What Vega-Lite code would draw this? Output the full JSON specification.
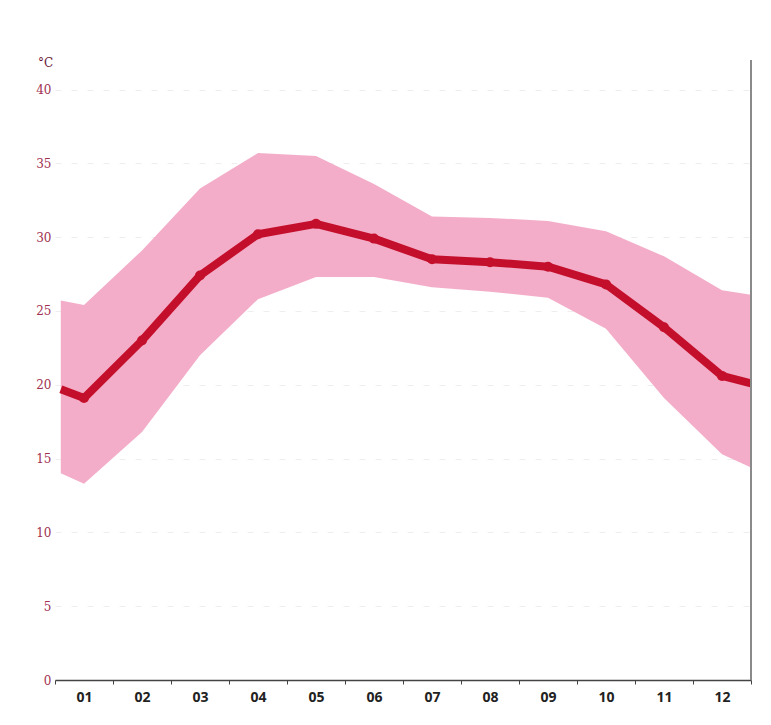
{
  "$schema": "https://vega.github.io/schema/vega-lite/v6.json",
  "width": 696,
  "height": 620,
  "autosize": "none",
  "padding": {"left": 55, "top": 60, "right": 20, "bottom": 45},
  "background": "white",
  "config": {"view": {"stroke": null}},
  "data": {
    "values": [
      {"m": 0.6, "lo": 14.0, "hi": 25.7, "mean": 19.7, "pt": false},
      {"m": 1, "lo": 13.3, "hi": 25.4, "mean": 19.1, "pt": true},
      {"m": 2, "lo": 16.8, "hi": 29.1, "mean": 23.0, "pt": true},
      {"m": 3, "lo": 22.0, "hi": 33.3, "mean": 27.4, "pt": true},
      {"m": 4, "lo": 25.8, "hi": 35.7, "mean": 30.2, "pt": true},
      {"m": 5, "lo": 27.3, "hi": 35.5, "mean": 30.9, "pt": true},
      {"m": 6, "lo": 27.3, "hi": 33.6, "mean": 29.9, "pt": true},
      {"m": 7, "lo": 26.6, "hi": 31.4, "mean": 28.5, "pt": true},
      {"m": 8, "lo": 26.3, "hi": 31.3, "mean": 28.3, "pt": true},
      {"m": 9, "lo": 25.9, "hi": 31.1, "mean": 28.0, "pt": true},
      {"m": 10, "lo": 23.8, "hi": 30.4, "mean": 26.8, "pt": true},
      {"m": 11, "lo": 19.1, "hi": 28.7, "mean": 23.9, "pt": true},
      {"m": 12, "lo": 15.3, "hi": 26.4, "mean": 20.6, "pt": true},
      {"m": 12.5, "lo": 14.4, "hi": 26.1, "mean": 20.1, "pt": false}
    ]
  },
  "encoding": {
    "x": {
      "field": "m",
      "type": "quantitative",
      "scale": {"domain": [0.5, 12.5], "nice": false, "zero": false},
      "axis": {
        "title": null,
        "values": [0.5, 1.5, 2.5, 3.5, 4.5, 5.5, 6.5, 7.5, 8.5, 9.5, 10.5, 11.5, 12.5],
        "labelExpr": "datum.value < 1 ? '' : (datum.value < 10 ? '0' : '') + format(datum.value - 0.5, 'd')",
        "labelOffset": -29,
        "labelOverlap": false,
        "labelBound": false,
        "labelFlush": false,
        "grid": false,
        "domainColor": "#444444",
        "domainWidth": 1.5,
        "tickColor": "#444444",
        "tickSize": 4,
        "labelPadding": 6,
        "labelFont": "Open Sans",
        "labelFontWeight": "bold",
        "labelFontSize": 14,
        "labelColor": "#222222"
      }
    }
  },
  "layer": [
    {
      "mark": {"type": "area", "color": "#f2a9c5", "opacity": 0.95},
      "encoding": {
        "y": {
          "field": "lo",
          "type": "quantitative",
          "scale": {"domain": [0, 42], "nice": false},
          "axis": {
            "title": "°C",
            "titleAngle": 0,
            "titleX": -10,
            "titleY": 2,
            "titleAlign": "center",
            "titleBaseline": "middle",
            "titleFont": "DejaVu Serif",
            "titleFontWeight": "normal",
            "titleFontSize": 12,
            "titleColor": "#6a1a35",
            "values": [0, 5, 10, 15, 20, 25, 30, 35, 40],
            "domain": false,
            "ticks": false,
            "labelPadding": 4,
            "labelFont": "DejaVu Serif",
            "labelFontSize": 12,
            "labelColor": "#a03050",
            "gridColor": "#eeeeee",
            "gridDash": [6, 10],
            "gridWidth": 1
          }
        },
        "y2": {"field": "hi"}
      }
    },
    {
      "mark": {"type": "line", "color": "#c40f2c", "strokeWidth": 8, "strokeJoin": "round"},
      "encoding": {"y": {"field": "mean", "type": "quantitative"}}
    },
    {
      "transform": [{"filter": "datum.pt"}],
      "mark": {"type": "circle", "color": "#c40f2c", "size": 100, "opacity": 1},
      "encoding": {"y": {"field": "mean", "type": "quantitative"}}
    },
    {
      "mark": {"type": "rule", "color": "#8a8a8a", "strokeWidth": 1.5},
      "encoding": {"x": {"datum": 12.5}}
    }
  ]
}
